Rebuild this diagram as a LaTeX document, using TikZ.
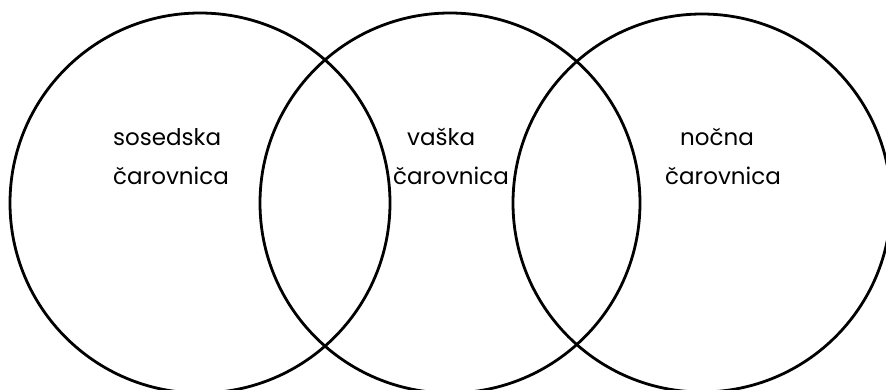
\documentclass[tikz,border=0pt]{standalone}
\usepackage{fontspec}
\setmainfont{Poppins}
\begin{document}
\begin{tikzpicture}[x=1pt,y=-1pt,
  ring/.style={draw=black,line width=2.8pt},
  lbl/.style={anchor=base west,inner sep=0pt,font=\fontsize{23}{23}\selectfont}]
  \useasboundingbox (0,0) rectangle (886,389);
  \clip (0,0) rectangle (886,389);
  % three overlapping sets
  \draw[ring] (200,203) circle[radius=190];
  \draw[ring] (450,203) circle[radius=190];
  \draw[ring] (702,203) circle[radius=189];
  % set labels
  \node[lbl] (l1) at (113,145) {sosedska};
  \node[lbl] (l2) at (113,184) {čarovnica};
  \node[lbl] (m1) at (407,145) {vaška};
  \node[lbl] (m2) at (393,184) {čarovnica};
  \node[lbl] (r1) at (680,145) {nočna};
  \node[lbl] (r2) at (665,184) {čarovnica};
\end{tikzpicture}
\end{document}
